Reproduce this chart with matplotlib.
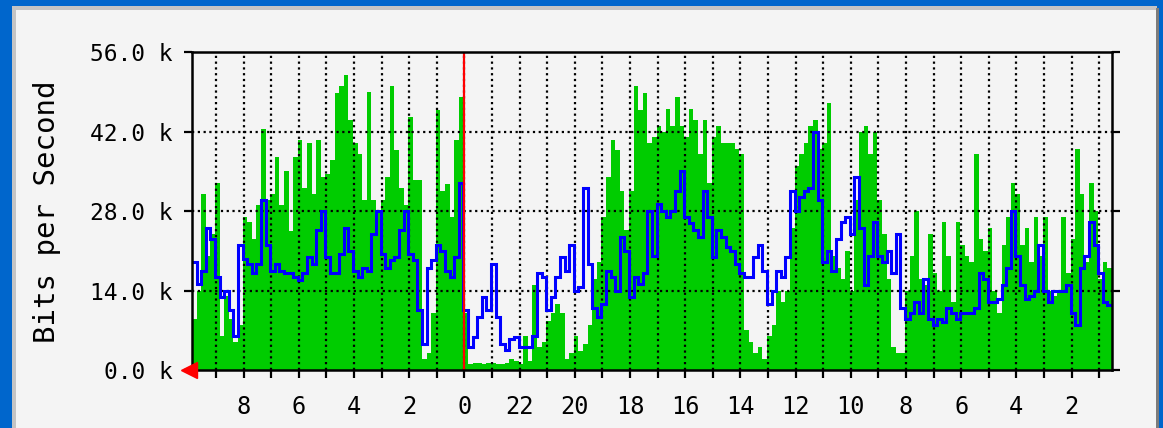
"""
MRTG style daily traffic graph (Bits per Second)
"""

import numpy as np
import matplotlib
matplotlib.use('Agg')
import matplotlib.pyplot as plt
from matplotlib.patches import Rectangle

# --- data (k bits/s), 10-minute samples, left -> right ---
green_in = [9, 14, 31, 20, 24, 33, 6, 13, 9, 5, 8, 27, 26, 23, 29, 42.5, 30, 31, 37.5, 29,
            35, 24.5, 37.5, 40.5, 32, 40, 31, 40.5, 34, 34.5, 37, 48.7, 50,
            52, 44, 40, 38, 30, 49, 30, 28, 30, 34, 50, 38.7, 32, 29, 44.6, 33.4, 33.4, 2,
            3, 10, 45.7, 31.6, 32.8, 27, 40.5, 48, 10, 1, 1.3, 1.2, 1.0, 1.3, 1.2, 1.0,
            1, 1.2, 2, 1.5, 1, 6, 1.5, 15, 4, 5, 8.7, 10, 11.6, 10, 2, 3, 6, 3.4, 4.6, 8,
            16, 19, 27, 34, 40.5, 38.7, 31.6, 24.6, 31.6, 50, 45.8, 48.7, 40,
            41, 43, 42, 46, 43, 48, 43, 41, 46, 44, 38, 44, 33, 41, 43, 40, 40, 40, 39, 38,
            7, 5, 3, 4, 2, 6, 8, 14, 12, 14, 25, 36, 38, 40,
            43, 44, 39, 40, 47, 20, 18, 16, 21, 14, 30, 42, 43, 38, 42, 30, 24, 16, 4, 3,
            3, 14, 20, 28, 16, 15, 24, 17, 14, 26, 20, 12, 26,
            22, 20, 19, 38, 23, 21, 25, 14, 10, 22, 27, 33, 31, 22, 25, 19, 27, 20, 27, 14,
            13, 14, 27, 17, 23, 39, 31, 19, 33, 28, 16, 19, 18]

blue_out = [19, 15.2, 17.5, 25, 23, 16.3, 12.8, 14, 10.5, 6, 22, 19.5, 18.7, 17, 18.7, 30,
            22, 17.5, 18.7, 17.5, 17, 17, 16.3, 15.8, 17, 19.9, 18.7, 24.6, 28, 19.9, 17, 17, 20.5,
            25, 21, 17.5, 16.3, 18, 17.5, 24, 28, 20.5, 18, 19.3, 19.9, 24.6, 28, 20.5, 19.3,
            10.5, 4.6, 18, 19.3, 22, 21, 17.5, 16.3, 19.9, 33, 10.5, 4, 5.8, 9.3, 12.8, 10.5, 18.7, 9.3,
            4.5, 3.5, 5.5, 5.8, 4, 4, 4, 6, 17, 16.3, 10.5, 12.8, 16.3, 19.9, 17.5, 22, 14, 14.6,
            32, 18.7, 11, 9.3, 11.6, 17.5, 16.3, 14, 23.4, 21, 12.8, 16.3, 15.2, 17, 28,
            20, 29.3, 28, 27, 28, 31.6, 35, 27, 25.8, 24.6, 23.4, 31.6, 27, 19.9, 24.6, 23.4,
            21.6, 21, 18.7, 17, 16.3, 16.3, 19.9, 22, 17.5, 11.6, 14, 17.5, 16.3, 19.9, 31.6, 28, 30.5, 31.6,
            32, 42, 30, 19, 21, 17.5, 23, 26, 27, 24, 34, 25, 15, 20, 26, 20, 19, 21, 17, 24,
            11, 9, 10, 12, 10, 16, 9, 8, 9, 8.5, 11, 10, 9,
            10, 10, 10, 11, 17, 16, 12, 12, 12.5, 15, 18, 28, 20, 15, 12.5, 13, 14, 22, 14, 12,
            14, 14, 14, 15, 10, 8, 18, 20, 26, 22, 17, 12, 11.5]

# hour gridlines, left -> right (MRTG runs backwards in time)
hour_marks = [9, 8, 7, 6, 5, 4, 3, 2, 1, 0, 23, 22, 21, 20, 19, 18, 17, 16, 15, 14,
              13, 12, 11, 10, 9, 8, 7, 6, 5, 4, 3, 2, 1]
y_ticks = [0, 14, 28, 42, 56]
y_tick_labels = ['0.0 k', '14.0 k', '28.0 k', '42.0 k', '56.0 k']

# --- geometry ---
W, H = 1163, 428
n = len(green_in)
edges = np.arange(n + 1) / 6.0          # hours from left edge
grid_x = 0.87 + np.arange(len(hour_marks))
midnight_x = grid_x[hour_marks.index(0)]

fig = plt.figure(figsize=(W / 100, H / 100), dpi=100, facecolor='#0066cc')

# light panel with bevel (behind the axes)
def panel_rect(x0, y0, w, h, color):
    fig.patches.append(Rectangle((x0 / W, y0 / H), w / W, h / H,
                                 transform=fig.transFigure, facecolor=color,
                                 edgecolor='none', zorder=-5))

panel_rect(12, 0, 1157 - 12, H - 6, '#c4c4c4')
panel_rect(16, 0, 1156 - 16, H - 10, '#f4f4f4')
panel_rect(1156, 0, 3, H - 8, '#7c7c7c')

ax = fig.add_axes([192 / W, 1 - 370 / H, (1112 - 192) / W, (370 - 52) / H])
ax.set_zorder(5)
ax.set_facecolor('#f4f4f4')

# incoming (green area) and outgoing (blue line)
ax.stairs(green_in, edges, fill=True, color='#00cc00', baseline=0, zorder=1)

dots = (0, (1, 1.6))
for gx in grid_x:
    ax.axvline(gx, color='black', lw=1.6, linestyle=dots, zorder=2)
for gy in y_ticks[1:-1]:
    ax.axhline(gy, color='black', lw=1.6, linestyle=dots, zorder=2)

ax.stairs(blue_out, edges, color='#0000ff', lw=2.2, baseline=None, zorder=3)

# midnight marker
ax.axvline(midnight_x, color='#ff0000', lw=1.6, zorder=4)

# red arrow at origin
ax.plot([-0.12], [0], marker='<', markersize=11, color='#ff0000',
        clip_on=False, zorder=6)

ax.set_xlim(0, edges[-1])
ax.set_ylim(0, 56)

ax.set_xticks(grid_x)
ax.set_xticklabels([str(h) if h % 2 == 0 else '' for h in hour_marks])
ax.set_yticks(y_ticks)
ax.set_yticklabels(y_tick_labels)

mono = 'DejaVu Sans Mono'
ax.tick_params(axis='y', which='both', direction='out', length=6, width=1.6,
               color='black', pad=8, labelsize=16.5, right=True)
ax.tick_params(axis='x', which='both', direction='out', length=6, width=1.6,
               color='black', pad=12, labelsize=17)
for lab in ax.get_xticklabels() + ax.get_yticklabels():
    lab.set_fontfamily(mono)

for spine in ax.spines.values():
    spine.set_linewidth(1.8)
    spine.set_color('black')
    spine.set_zorder(5)

fig.text(47 / W, 1 - 212 / H, 'Bits per Second', rotation=90, ha='center',
         va='center', fontsize=21, family=mono, color='black')

plt.savefig('out.png', dpi=100, facecolor=fig.get_facecolor())
